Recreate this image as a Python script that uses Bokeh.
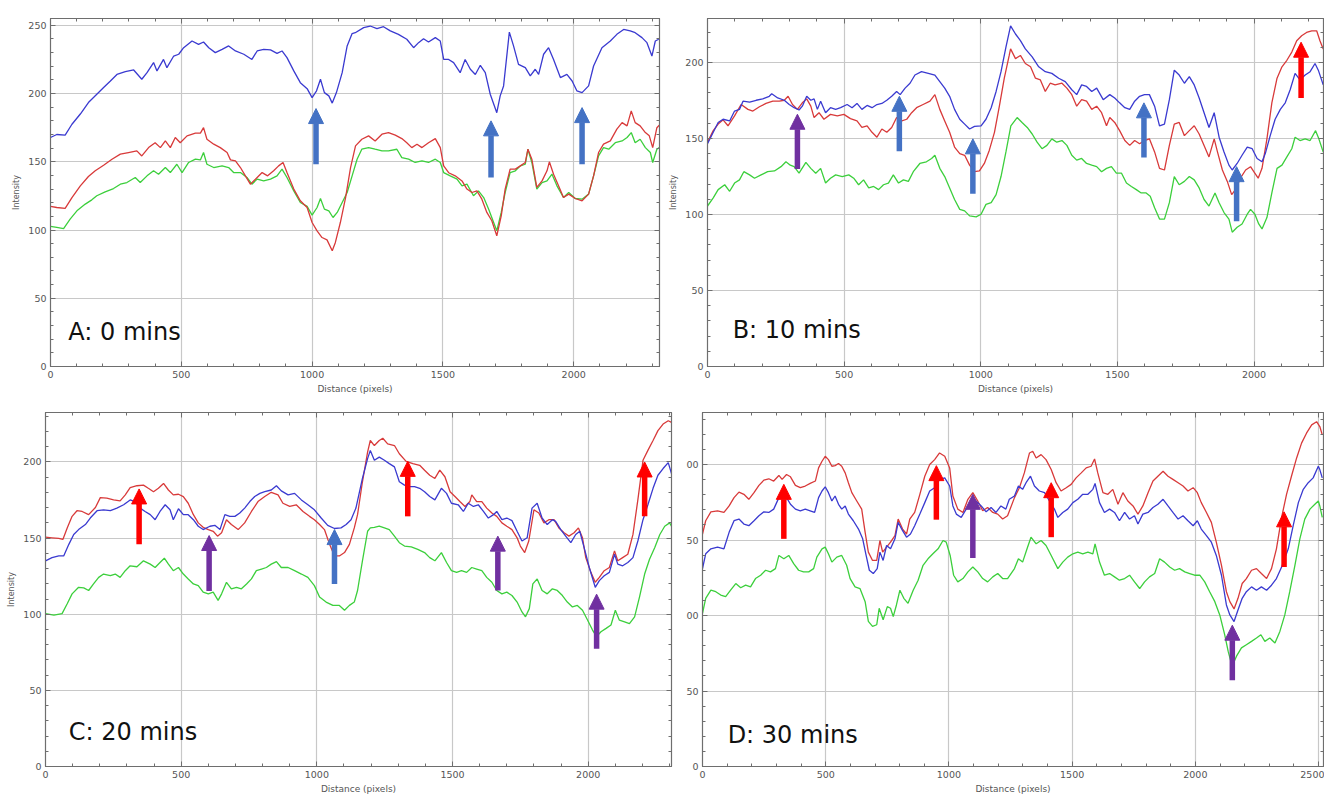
from bokeh.plotting import figure
from bokeh.layouts import row, column
from bokeh.models import (LinearAxis, SingleIntervalTicker, Arrow, NormalHead,
                          Label, Range1d, ColumnDataSource)
from bokeh.embed import file_html
from bokeh.resources import INLINE

# ---------------- data (distance, intensity) ----------------
A_blue = [(0,167.8),(24,170),(56,169.5),(82,177.5),(114,185),(145,193.4),(177,199.5),(203,204.4),(228,209),(254,214),
          (286,216),(318,217.3),(349,210.5),(369,215.3),(394,222.7),(407,216.6),(432,225),(445,219),(471,227.5),(490,228.8),
          (509,233.6),(541,238.5),(566,236),(585,237.8),(605,233.6),(630,230),(656,232.4),(681,234.9),(707,231.2),(739,228.8),
          (770,225),(790,231.2),(815,232.4),(841,232),(866,229.5),(885,231.2),(904,226.3),(930,216.6),(955,208),(981,203.6),
          (1000,197),(1017,202),(1032,210.5),(1047,200.7),(1064,198.3),(1077,193),(1093,200.7),(1115,215.3),(1134,234.9),(1153,244),
          (1165,244.6),(1197,248.3),(1222,249.5),(1248,247.6),(1273,249),(1299,245.9),(1330,243.4),(1362,239.8),(1388,233.6),(1407,237.3),
          (1426,240.2),(1445,237.8),(1471,241),(1490,238.5),(1503,225),(1522,225),(1541,222.7),(1566,215.3),(1585,225),(1605,217.8),
          (1624,214),(1643,220.7),(1662,215.3),(1681,199.5),(1706,186),(1719,198.3),(1732,205.6),(1754,245),(1770,234.9),(1789,221.4),
          (1815,219),(1834,213),(1853,217.8),(1866,214),(1885,228.8),(1904,233.6),(1923,225),(1949,211.7),(1974,214),(1994,209.2),
          (2012,202),(2032,200.7),(2057,205.6),(2076,220.2),(2108,233.6),(2140,238.5),(2165,243.4),(2191,247),(2216,245.9),(2235,244.6),
          (2261,241),(2280,237.3),(2299,227.5),(2312,238.5),(2325,239.8)]
A_red = [(0,117.3),(24,116.5),(56,115.8),(82,123.8),(114,132.4),(145,139.2),(171,143.4),(203,147.5),(235,151.9),(267,155.6),
         (298,156.8),(330,158),(349,154.3),(375,160.4),(400,164),(420,160.4),(439,165.3),(458,160.4),(477,167.8),(496,164),
         (522,169),(554,171),(573,171),(585,175),(598,166.5),(624,162.9),(649,160.4),(675,156.8),(688,151.4),(707,150.7),
         (726,145.8),(745,139.7),(764,133.6),(790,138.5),(809,142.1),(830,139.7),(853,143.4),(872,147),(889,149.5),(904,142.1),
         (930,130),(955,121.4),(981,116.5),(1000,105.5),(1019,99.4),(1038,94.5),(1057,92.8),(1077,84.8),(1089,90.9),(1108,105.5),
         (1128,123.8),(1147,145.8),(1166,161.7),(1190,166.5),(1216,169),(1241,165.3),(1267,170.2),(1292,171.4),(1318,169.5),(1343,167),
         (1362,164),(1381,160.4),(1401,162.9),(1420,160.4),(1445,164),(1471,167),(1490,160.4),(1503,147),(1522,142),(1547,139.7),
         (1573,136),(1592,130),(1611,127.5),(1630,128.7),(1649,122.6),(1668,112.9),(1687,106.8),(1706,95.8),(1723,110.4),(1738,130),
         (1757,144.6),(1777,144.6),(1796,147),(1815,149.5),(1825,159.2),(1840,151.9),(1859,131.2),(1879,136),(1898,143.4),(1907,150),
         (1923,140.9),(1942,132.4),(1961,123.8),(1981,126.3),(2006,123.1),(2032,121.4),(2057,126.3),(2076,139.7),(2095,156.8),(2114,162.9),
         (2140,165.3),(2165,173.9),(2185,178.7),(2204,176.3),(2220,187.3),(2235,178.7),(2254,176.3),(2274,171.4),(2289,169),(2302,160.4),
         (2318,175),(2327,176.8)]
A_green = [(0,102.6),(24,101.9),(50,101.1),(75,108),(101,114.1),(133,119),(158,122.1),(177,125.1),(209,128),(241,130.4),
           (267,133.6),(292,134.8),(324,138.5),(343,134.8),(369,139.7),(394,143.4),(413,140.9),(439,145.8),(458,142.1),(483,148.2),
           (503,142.1),(528,149.5),(554,151.9),(573,151.4),(585,156.8),(598,148.2),(624,145.8),(656,147),(681,145.8),(700,142.1),
           (726,142.1),(751,138.5),(770,133.6),(790,137.3),(815,136),(841,137.3),(866,139.7),(885,144.6),(904,138.5),(930,128.7),
           (955,120.2),(981,117.3),(1000,110.9),(1019,116.5),(1032,123.1),(1047,115.3),(1064,114.1),(1080,109.2),(1096,112.9),(1115,120.2),
           (1134,127.5),(1153,139.7),(1172,151.9),(1190,159.2),(1216,160.4),(1241,159.2),(1267,158),(1292,158),(1324,159.2),(1343,153.1),
           (1369,151.9),(1394,149.5),(1420,150.7),(1445,149.5),(1471,151.9),(1490,149.5),(1503,142.1),(1528,139.7),(1554,137.3),(1573,132.4),
           (1592,133.6),(1617,125.1),(1636,128.7),(1656,123.8),(1675,115.3),(1694,105.5),(1706,99.4),(1723,112.9),(1738,127.5),(1757,142.1),
           (1777,143.4),(1796,147),(1815,148.2),(1825,159.2),(1840,149.5),(1859,130),(1879,134.8),(1898,136),(1917,140.9),(1936,132.4),
           (1961,123.8),(1981,127.5),(2006,123.1),(2032,122.6),(2057,126.3),(2076,139.7),(2095,154.3),(2114,160.4),(2134,159.2),(2159,164),
           (2185,165.3),(2204,167.8),(2220,171.4),(2235,164),(2254,166.5),(2274,160.4),(2293,156.8),(2302,149.5),(2318,159.2),(2327,160.4)]

B_blue = [(0,146.6),(21,154.1),(39,160.6),(57,162.7),(81,161.6),(99,168.1),(117,169.2),(130,174.6),(154,173.9),(178,175.2),
          (202,176.1),(226,177.8),(235,179.5),(257,176.7),(281,175.2),(299,172.4),(317,170.3),(335,168.8),(347,171.3),(363,177.8),
          (378,175.2),(390,176.1),(402,169.2),(414,174.6),(432,167),(450,170.3),(469,169.2),(487,170.3),(511,172.4),(529,170.3),
          (547,173.1),(565,169.2),(584,171.8),(602,170.3),(620,172.4),(638,173.1),(656,175.2),(674,177.8),(692,181),(705,178.9),
          (723,183.2),(741,186.4),(759,191.8),(783,194),(808,192.9),(832,191.8),(850,187.5),(868,183.2),(886,177.8),(904,169.2),
          (923,162.7),(941,159.5),(959,156.3),(977,158),(1001,158.4),(1019,162.7),(1038,170.3),(1056,181),(1074,194),(1092,210.1),
          (1109,224.1),(1127,218.8),(1145,214.4),(1163,209),(1188,203.7),(1212,197.2),(1236,194),(1260,192.9),(1285,189.7),(1309,187.5),
          (1333,182.1),(1351,178.9),(1369,185.3),(1387,184.3),(1406,181),(1424,183.2),(1448,175.6),(1472,178.9),(1490,176.7),(1508,173.5),
          (1527,170.3),(1545,169.2),(1563,174.6),(1581,177.8),(1599,178.9),(1617,178.9),(1636,171.3),(1654,158.4),(1672,159.5),(1690,175.6),
          (1708,195),(1726,191.8),(1745,186.4),(1763,190.7),(1781,185.3),(1799,176.7),(1817,167),(1835,157.3),(1854,167),(1872,150.9),
          (1890,141.2),(1908,132.5),(1920,129.3),(1938,133.6),(1956,139),(1975,144.4),(1993,143.3),(2011,136.9),(2029,134.7),(2041,140.1),
          (2059,151.9),(2077,162.7),(2096,169.2),(2114,173.5),(2132,182.1),(2150,192.9),(2168,188.6),(2187,191.8),(2205,194),(2223,199.4),
          (2235,195),(2253,185.3)]
B_red = [(0,147.6),(21,155.2),(39,159.5),(57,162.3),(75,158.4),(99,164.9),(123,172.4),(148,169.2),(166,168.1),(190,170.9),
         (214,173.1),(239,174.6),(263,174.6),(281,175.2),(295,177.8),(311,172.4),(329,169.2),(347,173.5),(363,176.1),(378,171.3),
         (390,163.8),(408,167),(426,162.7),(450,165.9),(475,164.9),(499,165.9),(523,163.1),(547,161.6),(565,157.3),(584,158.4),
         (602,154.1),(620,150.9),(638,156.3),(656,154.1),(674,157.3),(692,163.8),(711,161.6),(729,162.7),(747,167),(765,170.3),
         (789,172.4),(814,174.6),(832,178.9),(850,169.2),(868,161.6),(886,154.1),(904,144.4),(923,140.1),(941,139),(959,132.5),
         (977,128.2),(995,128.7),(1013,133.6),(1031,142.2),(1050,154.1),(1068,171.3),(1086,189.7),(1104,204.7),(1109,209),(1127,202.6),
         (1145,204.7),(1163,199.4),(1182,197.2),(1200,189.7),(1218,188.6),(1236,181),(1254,186.4),(1272,185.3),(1297,186.4),(1315,183.2),
         (1333,178.9),(1351,171.3),(1369,175.6),(1387,174.6),(1406,169.2),(1424,171.3),(1442,167),(1460,158.4),(1472,163.8),(1490,160.6),
         (1508,155.2),(1527,148.7),(1545,145.5),(1563,148.7),(1581,146.6),(1599,148.7),(1617,149.8),(1636,141.2),(1654,130.4),(1672,129.3),
         (1690,145.5),(1708,159.5),(1726,160.6),(1745,151.9),(1763,155.2),(1781,158.4),(1799,153),(1817,145.5),(1835,137.9),(1854,149.8),
         (1866,141.2),(1884,129.3),(1902,121.8),(1918,113.1),(1932,116.4),(1950,123.9),(1969,129.3),(1987,131.5),(1999,128.2),(2015,123.9),
         (2029,130.4),(2047,149.8),(2065,173.5),(2084,189.7),(2102,197.2),(2120,201.5),(2138,206.9),(2156,214.4),(2174,217.7),(2192,219.8),
         (2211,220.9),(2229,220.9),(2241,214.4),(2253,209)]
B_green = [(0,105.6),(21,111),(39,116.4),(63,119.6),(81,115.3),(99,120.7),(117,122.8),(133,128.2),(154,126.1),(172,123.9),
           (196,126.1),(220,128.2),(245,128.7),(269,131.5),(287,134.7),(303,132.5),(317,131.5),(335,127.2),(360,134.3),(378,130.4),
           (396,127.2),(414,130.4),(432,120.7),(450,123.9),(469,126.1),(493,125),(517,126.1),(535,123.9),(553,119.6),(571,122.8),
           (590,117.5),(608,118.5),(626,116.4),(644,119.6),(662,120.7),(680,126.1),(699,120.7),(717,122.8),(735,121.8),(753,128.2),
           (777,133.6),(801,134.7),(820,136.9),(832,139),(850,130.4),(868,125),(886,117.5),(904,109.9),(923,103.4),(941,102.4),
           (959,99.1),(983,98.5),(1001,100.2),(1019,106.7),(1038,107.8),(1056,113.1),(1074,125),(1092,141.2),(1110,158.4),(1133,163.8),
           (1151,160.6),(1170,157.3),(1188,153),(1206,147.6),(1224,143.3),(1242,145.5),(1260,149.8),(1278,147.6),(1297,148.7),(1315,145.5),
           (1333,139),(1351,135.8),(1369,136.9),(1387,133.6),(1406,132.5),(1424,131.5),(1442,128.2),(1460,130.4),(1478,131.5),(1496,127.2),
           (1515,127.2),(1533,120.7),(1551,118.5),(1569,116.4),(1587,114.2),(1605,114.2),(1620,112.1),(1636,104.5),(1654,97),(1672,97),
           (1690,107.8),(1708,125),(1726,119.6),(1745,121.8),(1763,125),(1781,122.8),(1799,117.5),(1817,109.9),(1835,105.6),(1857,114.2),
           (1872,107.8),(1890,101.3),(1908,97),(1920,88.4),(1938,91.6),(1956,93.8),(1975,100.2),(1987,103.4),(2003,100.2),(2017,93.8),
           (2029,90.5),(2047,98),(2065,114.2),(2084,130.4),(2102,132.5),(2120,137.9),(2138,143.3),(2150,150.9),(2168,148.7),(2187,149.8),
           (2205,148.7),(2225,155.2),(2237,149.8),(2253,141.2)]

C_red = [(0,150.6),(24,150.2),(49,149.8),(64,149.1),(80,156.7),(98,164.3),(116,168),(135,167.5),(159,165.4),(184,170.1),
         (202,176.6),(226,176.2),(251,175.1),(275,174.5),(294,178.4),(312,183.1),(337,184.4),(361,184.8),(379,182.7),(398,180.5),
         (416,182.7),(435,185.9),(453,181.6),(471,178.4),(490,178.8),(508,177.3),(526,172.9),(545,165.4),(563,160),(581,157.1),
         (600,155.6),(618,154.5),(634,151.3),(649,153.5),(667,162.1),(685,158.9),(710,155.6),(734,160),(759,167.5),(783,174),
         (808,177.3),(832,180.1),(857,178.4),(875,172.9),(900,170.8),(924,171.9),(949,167.5),(973,164.3),(991,162.1),(1010,158.9),
         (1028,155.6),(1047,145.9),(1065,138.3),(1083,138.3),(1102,140.5),(1120,145.9),(1138,156.7),(1150,165.4),(1168,187),(1187,206.5),
         (1197,214.1),(1212,210.8),(1230,214.1),(1243,215.6),(1261,211.9),(1286,210.8),(1304,205.4),(1329,200.4),(1354,198.9),(1379,197.8),
         (1397,194.6),(1416,191.3),(1435,189.2),(1453,194.6),(1472,190.3),(1491,180.5),(1509,177.3),(1527,174),(1546,170.8),(1564,174),
         (1571,178.4),(1589,174),(1608,174),(1626,169.7),(1645,166.5),(1663,164.3),(1682,160),(1700,157.8),(1719,155.6),(1738,150.2),
         (1750,144.8),(1766,140.5),(1781,148.1),(1800,168.6),(1818,166.5),(1837,160),(1855,162.1),(1874,162.1),(1892,156.7),(1911,153.5),
         (1929,151.3),(1948,153.5),(1964,156.7),(1979,150.2),(1991,137.2),(2010,127.5),(2026,121),(2041,124.2),(2059,128.6),(2078,130.7),
         (2097,141.6),(2109,135.1),(2127,137.2),(2146,139.4),(2165,152.4),(2183,175.1),(2202,201.1),(2220,207.6),(2239,214.1),(2257,220.6),
         (2276,224.9),(2295,227.1),(2307,226)]
C_blue = [(0,135.1),(24,137.2),(49,138.3),(67,138.3),(86,145.9),(104,152.4),(122,155.6),(147,158.9),(165,163.2),(190,168),
          (214,168.6),(239,168),(263,169.7),(288,171.9),(312,175.1),(330,174),(349,169.7),(367,167.5),(386,165.4),(404,162.1),
          (422,167.5),(441,171.9),(459,168.6),(471,162.1),(490,169.3),(508,165.4),(526,165.4),(545,162.1),(563,157.8),(581,155.6),
          (606,157.8),(624,158.4),(643,155.6),(661,165.4),(679,164.3),(698,164.3),(716,166.5),(734,169.7),(753,174),(771,177.3),
          (790,179.4),(808,180.5),(832,181.6),(851,184.4),(869,181),(894,178.4),(918,179.4),(943,175.1),(967,171.9),(991,168.6),
          (1016,163.2),(1040,158.4),(1065,156.3),(1089,156.7),(1108,158.9),(1126,162.1),(1144,169.7),(1168,189.2),(1187,202.2),(1197,207.6),
          (1212,201.1),(1230,203.2),(1249,201.1),(1267,198.9),(1286,196.8),(1304,187),(1323,184.8),(1342,183.8),(1360,183.8),(1379,182.7),
          (1397,180.5),(1416,177.3),(1435,175.1),(1459,182.7),(1478,179.4),(1496,172.9),(1521,171.9),(1540,167.5),(1558,172.9),(1577,170.8),
          (1595,171.9),(1614,167.5),(1632,163.2),(1651,165.4),(1663,167.5),(1682,162.1),(1700,163.2),(1719,161.5),(1738,154.5),(1756,148.1),
          (1775,150.2),(1793,169.7),(1812,172.9),(1830,163.2),(1849,158.9),(1868,162.1),(1880,161),(1899,155.6),(1917,151.3),(1936,147),
          (1954,152.4),(1969,154.5),(1985,143.7),(2004,130.7),(2026,117.7),(2041,122.1),(2059,125.3),(2078,127.5),(2097,139.4),(2109,132.9),
          (2127,131.8),(2146,134),(2165,137.2),(2183,148.1),(2202,162.1),(2220,171.9),(2239,182.7),(2257,191.3),(2276,195.7),(2295,199.6),
          (2307,192.4)]
C_green = [(0,100.4),(31,99.4),(61,100.4),(80,106.9),(98,113.4),(122,117.7),(141,117.3),(159,115.6),(177,119.9),(196,124.2),
           (214,126.4),(239,125.3),(257,126.4),(275,124.2),(294,128.6),(312,131.8),(337,131.2),(361,135.1),(386,132.9),(404,130.7),
           (422,134),(438,136.8),(453,132.9),(471,128.6),(490,130.7),(508,126.4),(526,123.2),(545,119.9),(563,118.8),(581,114.5),
           (600,113.4),(618,114.5),(636,109.1),(649,113.4),(667,121),(685,116.7),(704,117.7),(722,116.7),(741,119.9),(759,123.2),
           (777,128.6),(796,129.7),(814,130.7),(832,132.9),(851,134.6),(869,130.7),(894,130.7),(918,128.6),(943,126.4),(967,124.2),
           (991,118.8),(1010,111.3),(1034,108),(1059,105.8),(1083,105.8),(1102,102.6),(1120,105.8),(1138,108),(1150,115.6),(1168,135.1),
           (1187,154.5),(1197,156.7),(1212,157.1),(1230,157.8),(1249,156.7),(1267,155.6),(1286,151.3),(1304,147),(1323,144.8),(1348,144.2),
           (1372,142.6),(1397,140.5),(1416,137.2),(1435,135.1),(1459,140.5),(1478,134),(1496,128.6),(1515,127.5),(1533,128.6),(1552,127.5),
           (1571,130.7),(1589,129.7),(1608,128.6),(1626,124.2),(1645,121),(1663,115.6),(1682,113.4),(1700,114.5),(1719,112.3),(1738,108),
           (1756,101.5),(1769,98.3),(1783,103.7),(1796,119.9),(1812,123.2),(1830,115.6),(1849,113.4),(1868,116.7),(1886,115.6),(1905,112.3),
           (1923,108),(1942,104.8),(1960,105.8),(1979,102.6),(1998,96.1),(2016,89.6),(2031,85.3),(2047,88.5),(2066,90.7),(2084,92.9),
           (2100,102.6),(2115,96.1),(2134,95),(2152,93.9),(2171,98.3),(2189,111.3),(2208,126.4),(2226,136.1),(2245,143.7),(2264,152.4),
           (2282,157.8),(2300,160),(2307,157.8)]

D_red = [(0,154),(13,162.8),(34,168.7),(61,169.4),(87,168.3),(108,172.6),(128,178.1),(148,181.8),(168,180.3),(188,177),
         (209,181.4),(229,186.2),(249,189.7),(269,190.6),(289,189.1),(310,192.8),(323,190.2),(341,193.4),(357,191.9),(377,186.2),
         (397,184.7),(417,185.8),(437,187.5),(458,189.1),(471,197.8),(485,202.2),(498,205.5),(511,203.3),(525,198.9),(538,199.3),
         (552,200.7),(565,198.9),(579,194.5),(592,188),(606,181.4),(626,175.9),(646,170.5),(660,155.1),(673,142),(690,136.5),
         (707,136.5),(720,149.7),(731,142),(747,145.3),(763,148.6),(781,153),(794,163.9),(812,157.3),(828,154),(841,163.9),
         (861,168.3),(882,180.3),(902,192.3),(922,200),(942,203.3),(962,207.7),(983,205.5),(1003,197.8),(1016,179.2),(1036,170.5),
         (1057,168.3),(1077,177),(1097,181.4),(1117,175.9),(1137,169.4),(1157,171.6),(1178,168.3),(1198,167.2),(1218,163.9),(1238,166.1),
         (1266,178.1),(1286,184.7),(1306,194.5),(1327,207.7),(1340,208.8),(1354,204.4),(1374,206.6),(1394,203.3),(1415,196.7),(1435,188),
         (1455,182.5),(1476,184.7),(1496,186.9),(1516,191.2),(1537,194.5),(1557,197.8),(1577,198.9),(1591,203.7),(1604,194.5),(1625,181.4),
         (1645,180.3),(1665,183.6),(1686,173.7),(1706,181.4),(1726,175.9),(1747,172.6),(1767,167.2),(1787,172.6),(1808,181.4),(1828,189.1),
         (1848,192.3),(1869,195.6),(1889,192.3),(1909,190.2),(1930,188),(1950,185.8),(1970,182.5),(1991,184.7),(2008,181.4),(2024,174.8),
         (2045,168.3),(2065,161.7),(2085,148.6),(2106,133.3),(2126,115.8),(2140,109.2),(2157,104.4),(2173,111.4),(2190,121.2),(2207,124.5),
         (2228,130),(2248,131.1),(2268,127.8),(2289,124.5),(2309,131.1),(2329,144.2),(2350,165),(2370,180.3),(2390,192.3),(2411,204.4),
         (2431,214.2),(2451,220.8),(2472,226.3),(2492,228.4),(2505,225.2),(2515,219.7)]
D_blue = [(0,131.1),(13,140.9),(34,144.2),(61,145.3),(87,144.2),(108,155.1),(128,162.8),(148,163.9),(168,160.6),(188,159.5),
          (209,162.8),(229,166.1),(249,168.7),(269,168.3),(289,170.5),(310,178.1),(323,180.3),(341,178.1),(357,173.7),(377,170.5),
          (397,169.4),(417,170.5),(437,169.4),(455,168.3),(471,178.1),(485,182.5),(498,185.3),(511,181.4),(525,175.9),(538,179.2),
          (552,173.7),(565,170.5),(579,172.6),(592,167.2),(612,162.8),(633,157.3),(650,150.8),(664,139.8),(677,130),(693,127.8),
          (709,131.1),(720,142),(733,136.5),(747,146.4),(763,144.2),(781,150.8),(794,161.7),(812,156.2),(828,151.9),(844,154),
          (861,159.5),(882,167.2),(902,174.8),(922,182.5),(942,184.7),(962,190.2),(983,191.2),(1003,185.8),(1016,172.6),(1030,167.2),
          (1050,165),(1070,170.5),(1090,173.7),(1110,175.9),(1131,172.6),(1151,168.7),(1171,171.6),(1191,168.3),(1211,172.6),(1231,170.5),
          (1245,177),(1266,179.2),(1282,185.8),(1299,183.6),(1313,188),(1331,192.3),(1347,185.8),(1367,182.5),(1388,181.4),(1408,175.9),
          (1428,170.5),(1442,165),(1462,168.3),(1482,170.5),(1503,174.8),(1523,177),(1543,180.3),(1564,180.3),(1584,183.6),(1593,187.5),
          (1611,174.8),(1631,168.3),(1652,170.5),(1672,168.3),(1692,162.8),(1713,168.3),(1733,163.9),(1753,166.1),(1767,160.6),(1787,167.2),
          (1808,168.3),(1828,171.6),(1848,173.7),(1869,177),(1889,172.6),(1909,168.3),(1930,163.9),(1950,166.1),(1970,162.8),(1991,159.5),
          (2008,162.8),(2024,157.3),(2045,153),(2065,148.6),(2085,139.8),(2106,126.7),(2126,107),(2140,100.4),(2157,96),(2173,103.7),
          (2190,111.4),(2207,115.8),(2228,119),(2248,116.8),(2268,119),(2289,116.8),(2309,120.1),(2329,124.5),(2350,132.2),(2377,144.2),
          (2397,159.5),(2418,174.8),(2438,183.6),(2458,188),(2478,191.2),(2499,198.9),(2505,196.7),(2515,191.2)]
D_green = [(0,101.5),(13,111.4),(34,116.8),(54,115.8),(74,113.6),(94,112.5),(114,116.8),(135,121.2),(155,118.4),(175,120.1),
           (195,119),(215,124.5),(236,126.7),(256,130),(276,128.9),(296,131.1),(310,139.8),(330,137.6),(350,139.8),(370,134.4),
           (390,130),(410,128.9),(431,128.9),(451,131.1),(464,138.7),(485,144.2),(498,145.3),(511,140.9),(525,135.4),(545,138.7),
           (565,139.8),(585,133.3),(599,124.5),(619,119),(639,117.9),(660,109.2),(673,96.1),(690,92.8),(707,93.9),(717,104.8),
           (733,97.2),(750,105.9),(763,104.8),(774,99.3),(787,107),(801,116.8),(817,111.4),(834,108.1),(855,116.8),(875,123.4),
           (895,133.3),(915,137.6),(935,140.9),(956,144.2),(976,149.7),(989,148.6),(1005,139.8),(1019,126.7),(1036,122.3),(1057,124.5),
           (1077,128.9),(1097,132.2),(1117,128.9),(1137,124.5),(1157,122.3),(1178,125.6),(1198,127.8),(1218,124.5),(1238,124.5),(1266,131.1),
           (1282,137.6),(1299,135.4),(1317,144.2),(1333,151.9),(1354,147.5),(1374,149.7),(1394,146.4),(1415,139.8),(1442,131.1),(1462,135.4),
           (1482,138.7),(1503,140.9),(1523,142),(1543,140.9),(1564,142),(1584,140.9),(1593,147.5),(1611,135.4),(1631,126.7),(1652,127.8),
           (1672,125.6),(1692,123.4),(1713,124.5),(1733,126.7),(1753,122.3),(1774,117.9),(1794,122.3),(1814,125.6),(1835,127.8),(1855,137.6),
           (1875,135.4),(1896,132.2),(1916,130),(1936,131.1),(1957,128.9),(1977,127.8),(1997,126.7),(2018,126.7),(2038,122.3),(2058,115.8),
           (2079,109.2),(2099,100.4),(2119,87.3),(2133,76.4),(2149,66.5),(2167,73.1),(2187,78.6),(2207,80.7),(2228,82.9),(2248,85.1),
           (2266,87.3),(2282,82.9),(2302,85.1),(2323,81.8),(2343,89.5),(2363,100.4),(2383,115.8),(2404,133.3),(2424,150.8),(2444,163.9),
           (2465,170.5),(2485,173.7),(2499,175.9),(2505,172.6),(2515,165)]

# arrows: (distance, tail intensity, tip intensity, colour name)
A_arrows = [(1015,148.2,189,"blue"),(1684,138.5,180,"blue"),(2032,148.2,189.7,"blue")]
B_arrows = [(329,130,166,"purple"),(702,141.6,177.8,"blue"),(971,113.6,149.8,"blue"),
            (1597,137.5,173.5,"blue"),(1936,95.5,131.5,"blue"),(2172,176.7,213.4,"red")]
C_arrows = [(345,145.9,182.3,"red"),(603,115.2,151.7,"purple"),(1065,119.9,155.6,"blue"),
            (1335,164.3,200.4,"red"),(1667,115.6,151.3,"purple"),(2031,77.4,113.2,"purple"),(2208,164.3,200,"red")]
D_arrows = [(330,150.8,186.9,"red"),(949,163.5,199.3,"red"),(1097,138.1,180.3,"purple"),
            (1415,151.9,188,"red"),(2150,57.2,93.6,"purple"),(2360,132.2,168.7,"red")]

panel_titles = ["A: 0 mins", "B: 10 mins", "C: 20 mins", "D: 30 mins"]
x_label = "Distance (pixels)"
y_label = "Intensity"
D_y_tick_text = {100: "00", 150: "50", 200: "00"}

# ---------------- styling ----------------
LINE = {"red": "#d83a3a", "green": "#3ccf3c", "blue": "#3a3ad0"}
ARROW = {"blue": "#4472C4", "red": "#FF0000", "purple": "#7030A0"}
FRAME = "#6e6e6e"


def make_panel(series, arrows, title, title_pos, x_end, y_end, width, height, borders,
               show_ylabel=True, y_overrides=None):
    bl, br, bt, bb = borders
    p = figure(width=width, height=height, x_range=Range1d(0, x_end), y_range=Range1d(0, y_end),
               output_backend="svg", toolbar_location=None,
               min_border_left=bl, min_border_right=br, min_border_top=bt, min_border_bottom=bb,
               x_axis_label=x_label, y_axis_label=(y_label if show_ylabel else None))
    p.background_fill_color = "white"
    p.border_fill_color = "white"
    p.outline_line_color = FRAME
    p.outline_line_width = 1.2

    xt = SingleIntervalTicker(interval=500, num_minor_ticks=5)
    yt = SingleIntervalTicker(interval=50, num_minor_ticks=5)
    top = LinearAxis(ticker=xt, major_label_text_font_size="0px", major_label_standoff=0,
                     major_label_text_color=None)
    right = LinearAxis(ticker=yt, major_label_text_font_size="0px", major_label_standoff=0,
                       major_label_text_color=None)
    p.add_layout(top, "above")
    p.add_layout(right, "right")
    p.below[0].ticker = xt
    p.left[0].ticker = yt
    p.xgrid.ticker = xt
    p.ygrid.ticker = yt
    p.grid.grid_line_color = "#c8c8c8"
    p.grid.grid_line_width = 1.2

    for ax in [p.below[0], p.left[0], top, right]:
        ax.axis_line_color = FRAME
        ax.major_tick_in = 5
        ax.major_tick_out = 0
        ax.minor_tick_in = 3
        ax.minor_tick_out = 0
        ax.major_tick_line_color = FRAME
        ax.minor_tick_line_color = FRAME
    for ax in [p.below[0], p.left[0]]:
        ax.major_label_text_font = "DejaVu Sans"
        ax.major_label_text_font_size = "9.5px"
        ax.major_label_text_color = "#555555"
        ax.major_label_standoff = 4
        ax.axis_label_text_font = "DejaVu Sans"
        ax.axis_label_text_font_style = "normal"
        ax.axis_label_text_color = "#555555"
    p.below[0].axis_label_text_font_size = "9px"
    p.below[0].axis_label_standoff = 3
    p.left[0].axis_label_text_font_size = "8px"
    p.left[0].axis_label_standoff = 4
    if y_overrides:
        p.left[0].major_label_overrides = y_overrides

    for name in ["green", "red", "blue"]:
        pts = series[name]
        p.line([q[0] for q in pts], [q[1] for q in pts], line_color=LINE[name], line_width=1.3)

    for cname in ["blue", "purple", "red"]:
        sel = [a for a in arrows if a[3] == cname]
        if not sel:
            continue
        src = ColumnDataSource(dict(x=[a[0] for a in sel], y0=[a[1] for a in sel], y1=[a[2] for a in sel]))
        c = ARROW[cname]
        p.add_layout(Arrow(end=NormalHead(size=15, fill_color=c, line_color=c, line_width=1),
                           x_start="x", y_start="y0", x_end="x", y_end="y1", source=src,
                           line_color=c, line_width=5.5))

    p.add_layout(Label(x=title_pos[0], y=title_pos[1], text=title, text_font="DejaVu Sans",
                       text_font_size="24px", text_color="#111111", text_baseline="alphabetic"))
    return p


pA = make_panel({"blue": A_blue, "red": A_red, "green": A_green}, A_arrows, panel_titles[0], (68, 25),
                2328, 255, 666, 396, (50, 7, 18, 30))
pB = make_panel({"blue": B_blue, "red": B_red, "green": B_green}, B_arrows, panel_titles[1], (92, 24),
                2254, 229, 658, 396, (37, 1, 12, 28))
pC = make_panel({"blue": C_blue, "red": C_red, "green": C_green}, C_arrows, panel_titles[2], (86, 22.5),
                2307, 232.5, 674, 400, (45, 3, 16, 30))
pD = make_panel({"blue": D_blue, "red": D_red, "green": D_green}, D_arrows, panel_titles[3], (102, 20.8),
                2520, 234.5, 650, 400, (28, 1, 13, 30), show_ylabel=False, y_overrides=D_y_tick_text)

layout = column(row(pA, pB), row(pC, pD))
open("out.html", "w").write(file_html(layout, INLINE))
